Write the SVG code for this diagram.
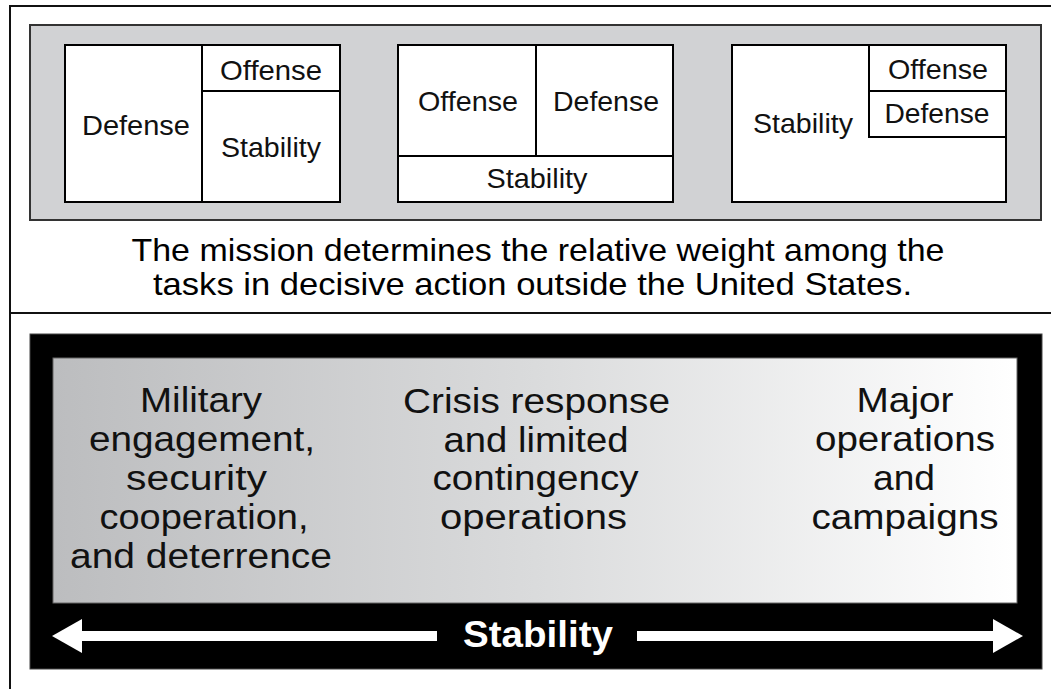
<svg xmlns="http://www.w3.org/2000/svg" width="1051" height="689" viewBox="0 0 1051 689">
  <defs>
    <linearGradient id="grad" x1="0" y1="0" x2="1" y2="0">
      <stop offset="0" stop-color="#bcbdbf"/>
      <stop offset="0.5" stop-color="#dadbdc"/>
      <stop offset="1" stop-color="#ffffff"/>
    </linearGradient>
    <style>
      .frame { stroke: #111; stroke-width: 2; fill: none; }
      .box { fill: #ffffff; stroke: #000; stroke-width: 2; }
      .div { stroke: #000; stroke-width: 2; fill: none; }
      .bt { font-family: "Liberation Sans", Arial, sans-serif; font-size: 27.5px; fill: #111; text-anchor: middle; }
      .cap { font-family: "Liberation Sans", Arial, sans-serif; font-size: 31.5px; fill: #000; text-anchor: middle; }
      .gt { font-family: "Liberation Sans", Arial, sans-serif; font-size: 35px; fill: #111; text-anchor: middle; }
      .st { font-family: "Liberation Sans", Arial, sans-serif; font-size: 37px; font-weight: bold; fill: #fff; text-anchor: middle; }
    </style>
  </defs>
  <rect width="1051" height="689" fill="#ffffff"/>
  <g id="frame">
    <line class="frame" x1="10" y1="6" x2="1051" y2="6"/>
    <line class="frame" x1="10" y1="5" x2="10" y2="689"/>
    <line class="frame" x1="10" y1="313" x2="1051" y2="313" stroke="#333"/>
  </g>
  <g id="panel">
    <rect x="30" y="25" width="1011" height="195" fill="#d1d2d4" stroke="#333" stroke-width="2"/>
  </g>
  <g id="box1">
    <rect class="box" x="65" y="45" width="275" height="157"/>
    <line class="div" x1="202" y1="45" x2="202" y2="202"/>
    <line class="div" x1="202" y1="91" x2="340" y2="91"/>
    <text class="bt" x="136" y="135" textLength="108" lengthAdjust="spacingAndGlyphs">Defense</text>
    <text class="bt" x="271" y="80" textLength="102" lengthAdjust="spacingAndGlyphs">Offense</text>
    <text class="bt" x="271" y="157" textLength="100" lengthAdjust="spacingAndGlyphs">Stability</text>
  </g>
  <g id="box2">
    <rect class="box" x="398" y="45" width="275" height="157"/>
    <line class="div" x1="536" y1="45" x2="536" y2="156"/>
    <line class="div" x1="398" y1="156" x2="673" y2="156"/>
    <text class="bt" x="468" y="111" textLength="100" lengthAdjust="spacingAndGlyphs">Offense</text>
    <text class="bt" x="606" y="111" textLength="106" lengthAdjust="spacingAndGlyphs">Defense</text>
    <text class="bt" x="537" y="188" textLength="101" lengthAdjust="spacingAndGlyphs">Stability</text>
  </g>
  <g id="box3">
    <rect class="box" x="732" y="45" width="274" height="157"/>
    <polyline class="div" points="869,45 869,137 1006,137"/>
    <line class="div" x1="869" y1="91" x2="1006" y2="91"/>
    <text class="bt" x="938" y="79" textLength="100" lengthAdjust="spacingAndGlyphs">Offense</text>
    <text class="bt" x="937" y="123" textLength="105" lengthAdjust="spacingAndGlyphs">Defense</text>
    <text class="bt" x="803" y="133" textLength="100" lengthAdjust="spacingAndGlyphs">Stability</text>
  </g>
  <g id="caption">
    <text class="cap" x="538" y="261" textLength="813" lengthAdjust="spacingAndGlyphs">The mission determines the relative weight among the</text>
    <text class="cap" x="532.5" y="295" textLength="759" lengthAdjust="spacingAndGlyphs">tasks in decisive action outside the United States.</text>
  </g>
  <g id="continuum">
    <rect x="30" y="334" width="1012" height="335" fill="#000" stroke="#444" stroke-width="1"/>
    <rect x="53" y="358" width="964" height="245" fill="url(#grad)" stroke="#666" stroke-width="1"/>
  </g>
  <g id="node-military">
    <text class="gt" x="201" y="412" textLength="122" lengthAdjust="spacingAndGlyphs">Military</text>
    <text class="gt" x="202" y="451" textLength="226" lengthAdjust="spacingAndGlyphs">engagement,</text>
    <text class="gt" x="196.5" y="490" textLength="141" lengthAdjust="spacingAndGlyphs">security</text>
    <text class="gt" x="204" y="529" textLength="209" lengthAdjust="spacingAndGlyphs">cooperation,</text>
    <text class="gt" x="201" y="568" textLength="262" lengthAdjust="spacingAndGlyphs">and deterrence</text>
  </g>
  <g id="node-crisis">
    <text class="gt" x="536.5" y="413" textLength="267" lengthAdjust="spacingAndGlyphs">Crisis response</text>
    <text class="gt" x="536" y="452" textLength="185" lengthAdjust="spacingAndGlyphs">and limited</text>
    <text class="gt" x="535.5" y="490" textLength="206" lengthAdjust="spacingAndGlyphs">contingency</text>
    <text class="gt" x="533.5" y="529" textLength="187" lengthAdjust="spacingAndGlyphs">operations</text>
  </g>
  <g id="node-major">
    <text class="gt" x="905" y="412" textLength="97" lengthAdjust="spacingAndGlyphs">Major</text>
    <text class="gt" x="905" y="451" textLength="180" lengthAdjust="spacingAndGlyphs">operations</text>
    <text class="gt" x="904" y="490" textLength="62" lengthAdjust="spacingAndGlyphs">and</text>
    <text class="gt" x="905" y="529" textLength="187" lengthAdjust="spacingAndGlyphs">campaigns</text>
  </g>
  <g id="connectors">
    <rect x="80" y="631" width="357" height="10" fill="#fff"/>
    <rect x="637" y="631" width="358" height="10" fill="#fff"/>
    <polygon points="52,636 82,619 82,653" fill="#fff"/>
    <polygon points="1023,636 993,619 993,653" fill="#fff"/>
    <text class="st" x="538" y="647" textLength="150" lengthAdjust="spacingAndGlyphs">Stability</text>
  </g>
</svg>
